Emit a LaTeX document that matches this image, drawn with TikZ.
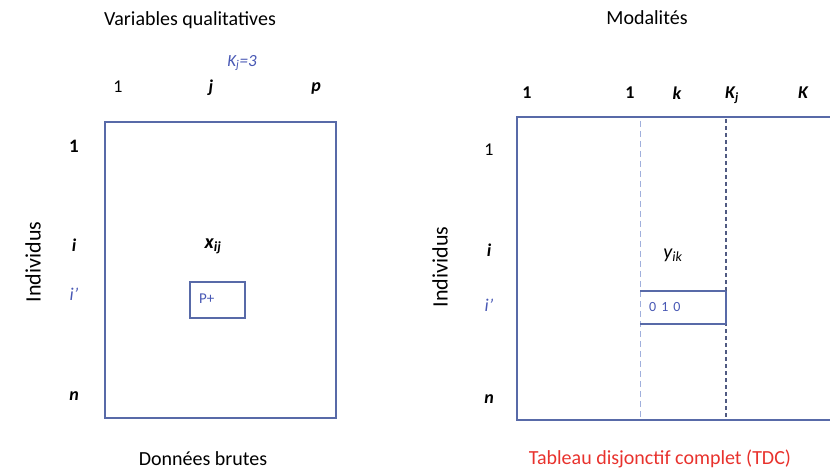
\documentclass[tikz,border=0pt]{standalone}
\usepackage{fontspec}
\setmainfont{Carlito}
\definecolor{boxblue}{RGB}{88,106,168}
\definecolor{txtblue}{RGB}{72,88,180}
\definecolor{lightblue}{RGB}{160,175,220}
\definecolor{darkdash}{RGB}{80,90,130}
\definecolor{tdcred}{RGB}{232,50,45}
\begin{document}
\begin{tikzpicture}[x=1pt,y=-1pt,
  every node/.style={inner sep=0pt,font=\fontsize{18}{20}\selectfont},
  title/.style={font=\fontsize{20}{22}\selectfont},
  lab/.style={font=\fontsize{18}{20}\selectfont\bfseries\itshape},
  num/.style={font=\fontsize{18}{20}\selectfont},
  frame/.style={draw=boxblue,line width=1.8pt},
  cell/.style={draw=boxblue,line width=1.5pt}]
\useasboundingbox (0,0) rectangle (830,473);
% left table
\draw[frame] (105,122) rectangle (336,418);
\draw[cell] (190,282) rectangle (245,318);
\node[title] (t1) at (190,20) {Variables qualitatives};
\node[txtblue,font=\fontsize{17}{19}\selectfont\itshape] (kj3) at (242,63) {K\textsubscript{j}=3};
\node[num] (c1) at (118,87) {1};
\node[lab] (cj) at (211,88) {j};
\node[lab] (cp) at (316,88) {p};
\node[num,font=\fontsize{19}{21}\selectfont\bfseries] (r1) at (74,146) {1};
\node[lab] (ri) at (74,245) {i};
\node[txtblue,font=\fontsize{18}{20}\selectfont\itshape] (rip) at (74,294) {i’};
\node[lab] (rn) at (74,396) {n};
\node[rotate=90,title,font=\fontsize{22}{24}\selectfont] (ind1) at (33,262) {Individus};
\node[lab,font=\fontsize{20}{22}\selectfont\bfseries\itshape] (xij) at (213,246) {x\textsubscript{ij}};
\node[txtblue,font=\fontsize{15}{17}\selectfont,anchor=west] (pp) at (199,299) {P+};
\node[title] (db) at (203,459) {Données brutes};
% right table
\draw[frame] (830,117) -- (517,117) -- (517,420) -- (830,420);
\draw[lightblue,line width=0.8pt,dash pattern=on 6pt off 4pt] (640,121) -- (640,418);
\draw[darkdash,line width=2.8pt,dash pattern=on 4pt off 3pt] (726,119) -- (726,418);
\draw[cell] (640,291) -- (726,291) (640,324) -- (726,324);
\draw[cell] (726,291) -- (726,324);
\node[title] (mod) at (647,18) {Modalités};
\node[num,font=\fontsize{18}{20}\selectfont\bfseries] (m1) at (527,93) {1};
\node[num,font=\fontsize{18}{20}\selectfont\bfseries] (m1b) at (630,93) {1};
\node[lab] (mk) at (677,93) {k};
\node[lab] (mkj) at (732,95) {K\textsubscript{j}};
\node[lab] (mK) at (803,93) {K};
\node[num] (s1) at (489,150) {1};
\node[lab] (si) at (489,250) {i};
\node[txtblue,font=\fontsize{18}{20}\selectfont\itshape] (sip) at (489,305) {i’};
\node[lab] (sn) at (489,399) {n};
\node[rotate=90,title,font=\fontsize{22}{24}\selectfont] (ind2) at (440,267) {Individus};
\node[font=\fontsize{20}{22}\selectfont\itshape] (yik) at (673,255) {y\textsubscript{ik}};
\node[txtblue,font=\fontsize{14}{16}\selectfont,anchor=west] (bits) at (649,307) {0\hspace{5pt}1\hspace{5pt}0};
\node[tdcred,title] (tdc) at (660,459) {Tableau disjonctif complet (TDC)};
\end{tikzpicture}
\end{document}
